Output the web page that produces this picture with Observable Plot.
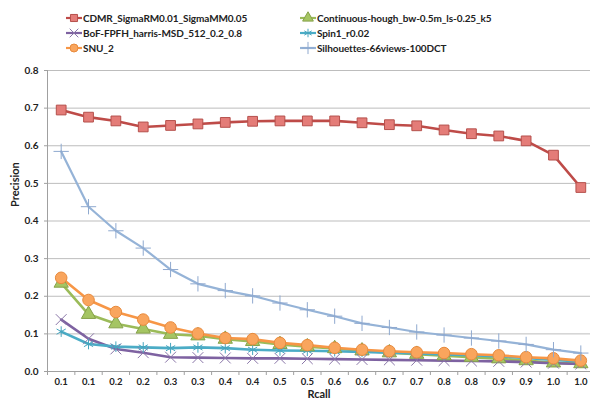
<!DOCTYPE html>
<html>
<head>
<meta charset="utf-8">
<script src="https://cdn.jsdelivr.net/npm/d3@7"></script>
<script src="https://cdn.jsdelivr.net/npm/@observablehq/plot@0.6"></script>
<style>
  html, body { margin: 0; padding: 0; background: #fff; overflow: hidden; }
  body { width: 590px; height: 399px; font-family: Lato, "Open Sans", sans-serif; }
  #legend { position: relative; height: 62px; font-size: 10px; letter-spacing: -0.1px; font-weight: bold; color: #222; }
  .item { position: absolute; display: flex; align-items: center; height: 14px; white-space: nowrap; }
  .item svg { display: block; margin-right: 1px; }
</style>
</head>
<body>
<div id="legend"></div>
<div id="chart"></div>
<script>
// ---- data ----
const recallLabels = ["0.1","0.1","0.2","0.2","0.3","0.3","0.4","0.4","0.5","0.5","0.6","0.6","0.7","0.7","0.8","0.8","0.9","0.9","1.0","1.0"];
const seriesNames = [
  "CDMR_SigmaRM0.01_SigmaMM0.05",
  "Continuous-hough_bw-0.5m_ls-0.25_k5",
  "BoF-FPFH_harris-MSD_512_0.2_0.8",
  "Spin1_r0.02",
  "SNU_2",
  "Silhouettes-66views-100DCT"
];
const cdmr = [0.695,0.676,0.666,0.650,0.654,0.658,0.662,0.665,0.666,0.666,0.666,0.661,0.656,0.653,0.642,0.632,0.626,0.613,0.575,0.489];
const continuousHough = [0.235,0.152,0.127,0.113,0.099,0.095,0.086,0.080,0.072,0.066,0.061,0.055,0.050,0.046,0.042,0.038,0.034,0.029,0.023,0.021];
const bofFpfh = [0.138,0.087,0.060,0.050,0.038,0.037,0.036,0.035,0.035,0.034,0.033,0.032,0.031,0.030,0.029,0.028,0.027,0.025,0.022,0.020];
const spin1 = [0.106,0.073,0.066,0.064,0.062,0.064,0.062,0.058,0.056,0.055,0.054,0.052,0.050,0.048,0.045,0.043,0.040,0.036,0.031,0.027];
const snu2 = [0.249,0.190,0.158,0.138,0.117,0.101,0.089,0.086,0.076,0.070,0.063,0.058,0.054,0.051,0.049,0.046,0.043,0.038,0.035,0.029];
const silhouettes = [0.585,0.438,0.374,0.328,0.271,0.233,0.215,0.201,0.182,0.164,0.147,0.128,0.117,0.105,0.097,0.089,0.081,0.072,0.058,0.049];
const yTicks = [0,0.1,0.2,0.3,0.4,0.5,0.6,0.7,0.8];
const xTitle = "Rcall";
const yTitle = "Precision";

// ---- styles ----
const lineColors = ["#be4b48","#9bbb59","#7e62a1","#4bacc6","#f79646","#95b3d7"];
const markFill   = ["#e47c78","#a5c563","none","none","#f9a55d","none"];
const markStroke = ["#b5504c","#86a24a","#8a76a8","#46a5be","#e88a3c","#8fa9cf"];
const symbols    = ["square","triangle","times","asterisk","circle","plus"];
const radii      = [5.5,5.3,5,5,5.8,5];
const lineWidths = [2.6,2.6,2.6,2.6,2.6,2.2];

const allValues = [cdmr, continuousHough, bofFpfh, spin1, snu2, silhouettes];
const data = [];
allValues.forEach((vals, s) => vals.forEach((v, i) => data.push({series: seriesNames[s], s, i, value: v})));

// ---- legend ----
const legend = document.getElementById("legend");
const legendPos = [[66,11],[300,11],[66,26],[300,26],[66,41],[300,41]];
const symTypes = {square: d3.symbolSquare, triangle: d3.symbolTriangle, times: d3.symbolTimes, asterisk: d3.symbolAsterisk, circle: d3.symbolCircle, plus: d3.symbolPlus};
seriesNames.forEach((name, s) => {
  const div = document.createElement("div");
  div.className = "item";
  div.style.left = legendPos[s][0] + "px";
  div.style.top = legendPos[s][1] + "px";
  const r = 4;
  const path = d3.symbol(symTypes[symbols[s]], Math.PI * r * r)();
  div.innerHTML = `<svg width="16" height="14"><line x1="0" x2="16" y1="7" y2="7" stroke="${lineColors[s]}" stroke-width="2.2"/>` +
    `<path transform="translate(8,7)" d="${path}" fill="${markFill[s]}" stroke="${markStroke[s]}" stroke-width="1"/></svg><span>${name}</span>`;
  legend.appendChild(div);
});

// ---- chart ----
const marks = [
  Plot.gridY(yTicks.filter(d => d > 0), {stroke: "#bdbdbd", strokeOpacity: 1, strokeWidth: 1}),
  Plot.ruleY([0], {stroke: "#a0a0a0"}),
  Plot.ruleX([0], {stroke: "#a0a0a0"}),
  Plot.axisY({ticks: yTicks, tickFormat: d => d.toFixed(1), tickSize: 3, tickPadding: 6, stroke: "#a0a0a0",
              fontSize: 10, fontWeight: "bold", label: null}),
  Plot.axisX({ticks: d3.range(0, 21), tickSize: 4, tickFormat: () => "", stroke: "#a0a0a0", label: null}),
  Plot.axisX({ticks: d3.range(0, 20).map(i => i + 0.5), tickSize: 0, tickPadding: 7,
              tickFormat: d => recallLabels[Math.floor(d)], fontSize: 9.5, fontWeight: "bold", label: null}),
  Plot.text([xTitle], {frameAnchor: "bottom", dy: 22.5, lineAnchor: "middle", fontSize: 11, fontWeight: "bold", fill: "#222"}),
  Plot.text([yTitle], {frameAnchor: "left", dx: -32, dy: -14, rotate: -90, lineAnchor: "middle", fontSize: 11, fontWeight: "bold", fill: "#222"})
];
seriesNames.forEach((name, s) => {
  const sub = data.filter(d => d.s === s);
  marks.push(Plot.line(sub, {x: d => d.i + 0.5, y: "value", stroke: lineColors[s], strokeWidth: lineWidths[s], curve: "linear"}));
});
seriesNames.forEach((name, s) => {
  const sub = data.filter(d => d.s === s);
  marks.push(Plot.dot(sub, {x: d => d.i + 0.5, y: "value", symbol: () => symbols[s], r: radii[s],
    fill: markFill[s], stroke: markStroke[s], strokeWidth: 1}));
});

const chart = Plot.plot({
  width: 590,
  height: 337,
  marginTop: 8,
  marginBottom: 28,
  marginLeft: 47,
  marginRight: 0,
  style: {fontFamily: "Lato, 'Open Sans', sans-serif", fontSize: "10px", color: "#222", overflow: "visible"},
  x: {type: "linear", domain: [0, 20], range: [47, 594]},
  y: {domain: [0, 0.8], range: [309, 8]},
  symbol: {type: "identity"},
  marks
});
document.getElementById("chart").appendChild(chart);
</script>
</body>
</html>
